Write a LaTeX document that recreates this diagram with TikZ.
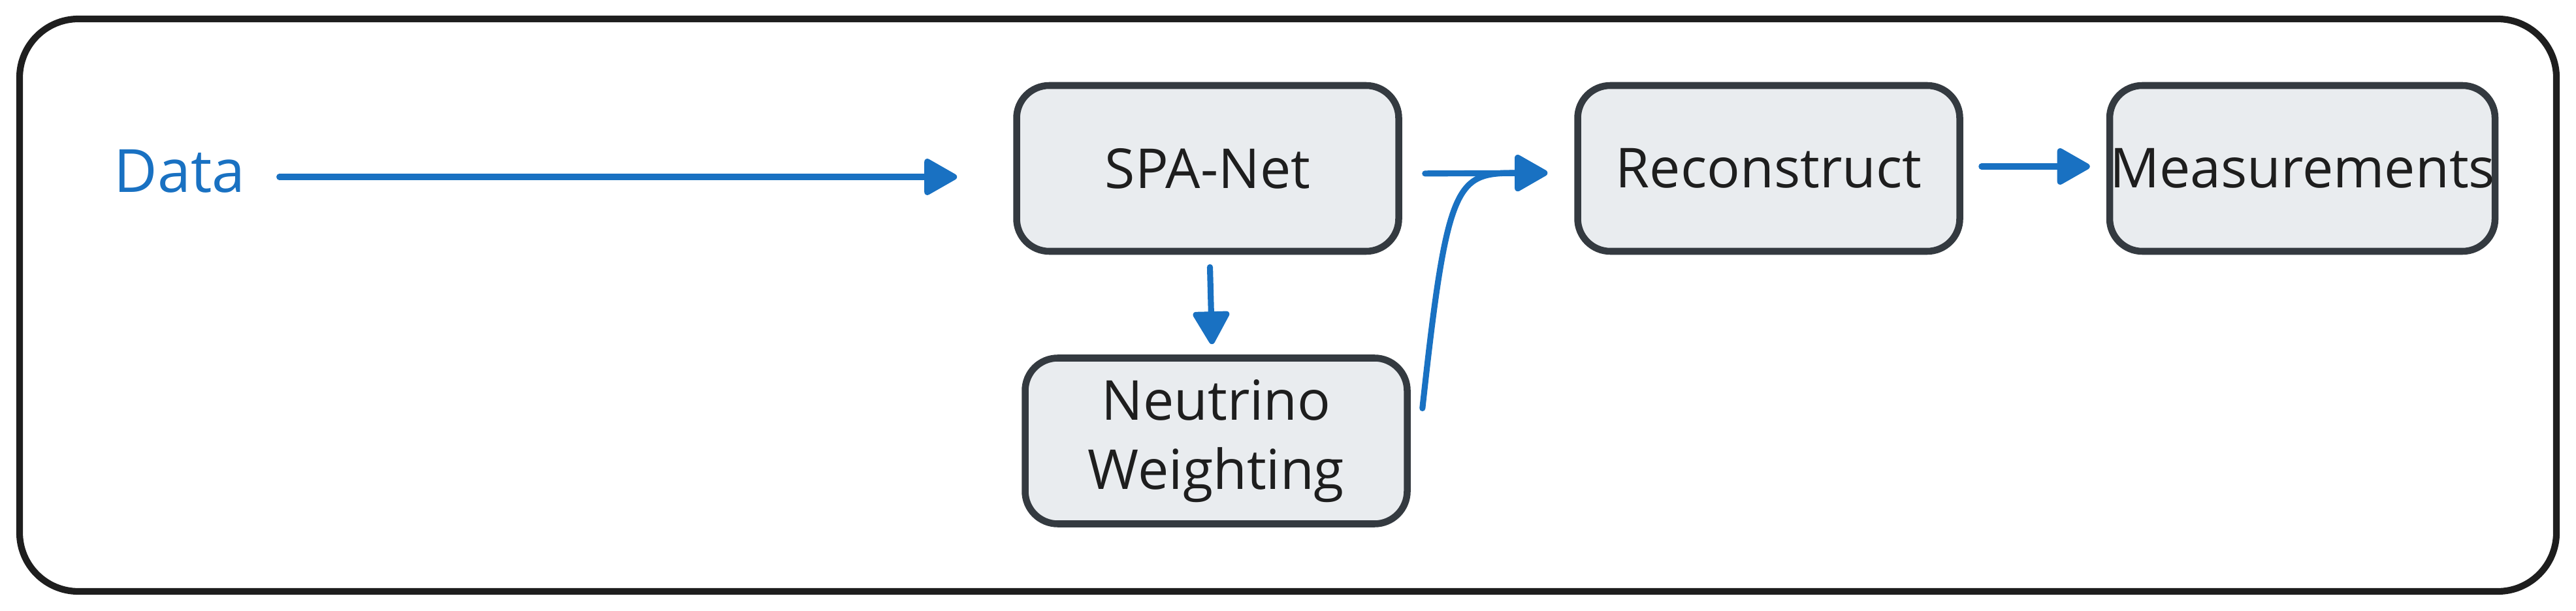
\documentclass[tikz,border=0pt]{standalone}
\usepackage{fontspec}
\setmainfont{Open Sans}
\usetikzlibrary{arrows.meta}
\definecolor{arrowblue}{HTML}{1971C2}
\definecolor{boxfill}{HTML}{E9ECEF}
\definecolor{boxline}{HTML}{343A40}
\definecolor{frameline}{HTML}{1E1E1E}
\begin{document}
\begin{tikzpicture}[
  stage/.style={draw=boxline, fill=boxfill, line width=3pt, rounded corners=0.5cm,
    minimum width=5.85cm, minimum height=2.54cm, inner sep=0pt, align=center,
    text=frameline, font=\fontsize{24}{30}\selectfont},
  flow/.style={draw=arrowblue, line width=2.6pt, line cap=round,
    -{Triangle[length=0.55cm,width=0.6cm,round]}}
]
\useasboundingbox (0,0) rectangle (39.44,9.35);
%Outer frame
  \draw[frameline, line width=2.9pt, rounded corners=0.9cm] (0.30,0.29) rectangle (39.14,9.06);
%Input
  \node[text=arrowblue, font=\fontsize{26}{30}\selectfont] (data) at (2.75,6.73) {Data};
%Stages
  \node[stage] (spanet) at (18.49,6.77) {SPA-Net};
  \node[stage] (neutrino) at (18.62,2.595) {Neutrino\\Weighting};
  \node[stage] (recon) at (27.08,6.77) {Reconstruct};
  \node[stage] (meas) at (35.25,6.77) {Measurements};
  %both paths meet here
  \coordinate (merge) at ([xshift=-0.41cm,yshift=-0.07cm]recon.west);
%Arrows
  \draw[flow, shorten <=0.4cm, shorten >=0.86cm] ([yshift=-0.09cm]data.east) -- ([yshift=-0.13cm]spanet.west);
  \draw[flow, shorten <=0.19cm, shorten >=0.16cm] ([xshift=0.03cm]spanet.south) -- ([xshift=-0.06cm]neutrino.north);
  \draw[flow, shorten <=0.35cm] ([yshift=-0.08cm]spanet.east) -- (merge);
  \draw[flow] ([xshift=0.18cm,yshift=0.5cm]neutrino.east) .. controls +(0.38,3.5) and +(-1.4,0) .. (merge);
  \draw[flow, shorten <=0.28cm, shorten >=0.25cm] ([yshift=0.03cm]recon.east) -- ([yshift=0.03cm]meas.west);
\end{tikzpicture}
\end{document}
